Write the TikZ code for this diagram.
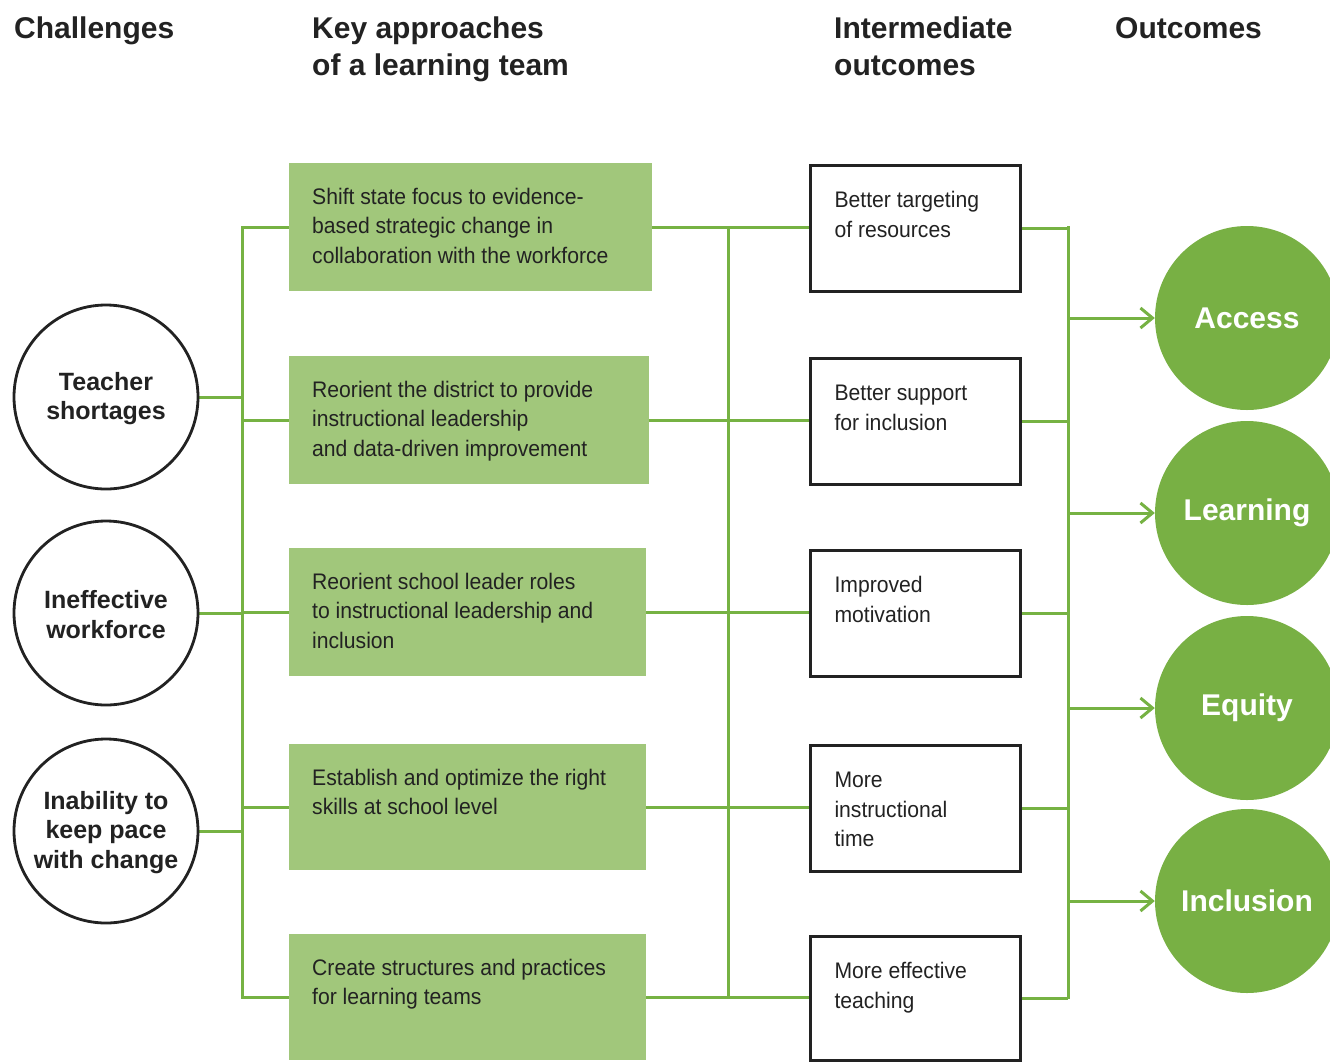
\documentclass[tikz,border=0pt]{standalone}
\usepackage{fontspec}
\setmainfont{Liberation Sans}
\newfontfamily\bodyf[FakeStretch=0.94]{Liberation Sans}
\usetikzlibrary{arrows.meta,backgrounds}
\definecolor{lgreen}{HTML}{76B243}
\definecolor{bgreen}{HTML}{A1C77B}
\definecolor{cgreen}{HTML}{78B044}
\definecolor{ink}{HTML}{222222}
\newcommand\btext[5]{\parbox[c][#2][t]{#1}{\bodyf\fontsize{22.5}{29.5}\selectfont\raggedright\leftskip=#3\relax\rule{0pt}{#4}#5}}
\begin{document}
\begin{tikzpicture}[x=1pt,y=-1pt,
  gl/.style={draw=lgreen, line width=3pt},
  gbox/.style={fill=bgreen, inner sep=0pt, anchor=north west, text=ink},
  wbox/.style={draw=ink, line width=3pt, fill=white, inner sep=0pt, anchor=north west, text=ink},
  chal/.style={circle, draw=ink, line width=2.8pt, fill=white, minimum size=184pt, inner sep=0pt, align=center, text=ink, font=\bfseries\fontsize{25}{29.5}\selectfont},
  outc/.style={circle, fill=cgreen, minimum size=184pt, inner sep=0pt, text=white, font=\bfseries\fontsize{30}{36}\selectfont},
  hdr/.style={anchor=north west, inner sep=0pt, align=left, text=ink, font=\bfseries\fontsize{30}{37}\selectfont},
  arr/.style={gl, -{Straight Barb[length=12pt,width=20pt]}}]
\clip (0,0) rectangle (1330,1061);

% headers
\node[hdr] (hc) at (14,17) {Challenges};
\node[hdr] (hk) at (312,17) {Key approaches\\of a learning team};
\node[hdr] (hi) at (834,17) {Intermediate\\outcomes};
\node[hdr] (ho) at (1115,17) {Outcomes};

% challenges
\node[chal] (c1) at (106,397) {\rule{0pt}{21pt}Teacher\\shortages};
\node[chal] (c2) at (106,613) {\rule{0pt}{21pt}Ineffective\\workforce};
\node[chal] (c3) at (106,831) {\rule{0pt}{21pt}Inability to\\keep pace\\with change};

% key approaches
\node[gbox] (g1) at (289,163) {\btext{363pt}{128pt}{23pt}{41pt}{Shift state focus to evidence-\\based strategic change in\\collaboration with the workforce}};
\node[gbox] (g2) at (289,356) {\btext{360pt}{128pt}{23pt}{41pt}{Reorient the district to provide\\instructional leadership\\and data-driven improvement}};
\node[gbox] (g3) at (289,548) {\btext{357pt}{128pt}{23pt}{41pt}{Reorient school leader roles\\to instructional leadership and\\inclusion}};
\node[gbox] (g4) at (289,744) {\btext{357pt}{126pt}{23pt}{41pt}{Establish and optimize the right\\skills at school level}};
\node[gbox] (g5) at (289,934) {\btext{357pt}{126pt}{23pt}{41pt}{Create structures and practices\\for learning teams}};

% intermediate outcomes
\node[wbox] (w1) at (809,164) {\btext{210pt}{126pt}{24pt}{42pt}{Better targeting\\of resources}};
\node[wbox] (w2) at (809,357) {\btext{210pt}{126pt}{24pt}{42pt}{Better support\\for inclusion}};
\node[wbox] (w3) at (809,549) {\btext{210pt}{126pt}{24pt}{42pt}{Improved\\motivation}};
\node[wbox] (w4) at (809,744) {\btext{210pt}{126pt}{24pt}{42pt}{More\\instructional\\time}};
\node[wbox] (w5) at (809,935) {\btext{210pt}{124pt}{24pt}{42pt}{More effective\\teaching}};

% outcomes
\node[outc] (o1) at (1247,318) {Access};
\node[outc] (o2) at (1247,513) {Learning};
\node[outc] (o3) at (1247,708) {Equity};
\node[outc] (o4) at (1247,901) {Inclusion};

% bus coordinates
\coordinate (lt) at (242,227);
\coordinate (lb) at (242,997);
\coordinate (mt) at (728,227);
\coordinate (mb) at (728,997);
\coordinate (rt) at (1068,227);
\coordinate (rb) at (1068,997);

\begin{scope}[on background layer]
\fill[white] (0,0) rectangle (1330,1061);
\draw[gl, line cap=rect] (lt) -- (lb);
\draw[gl, line cap=rect] (mt) -- (mb);
\draw[gl, line cap=rect] (rt) -- (rb);
\foreach \c in {c1,c2,c3} \draw[gl] (\c.east) -- (\c.east -| lt);
\foreach \g/\w in {g1/w1,g2/w2,g3/w3,g4/w4,g5/w5} {
  \draw[gl] (\g.west -| lt) -- (\g.west);
  \draw[gl] (\g.east) -- (\g.east -| \w.west);
  \draw[gl] (\w.east) -- (\w.east -| rt);
}
\end{scope}
\foreach \o in {o1,o2,o3,o4} \draw[arr] (\o.west -| rt) -- (\o.west);
\end{tikzpicture}
\end{document}
